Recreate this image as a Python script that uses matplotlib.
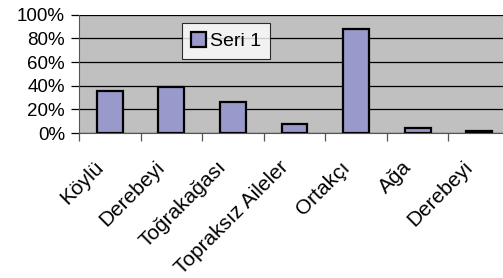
import numpy as np
import matplotlib.pyplot as plt
import matplotlib.transforms as mtransforms
from matplotlib.ticker import PercentFormatter

plt.rcParams['font.family'] = ['Liberation Sans', 'DejaVu Sans']

# Data
categories = ['Köylü', 'Derebeyi', 'Toğrakağası', 'Topraksız Aileler',
              'Ortakçı', 'Ağa', 'Derebeyi']
values = [35.5, 39, 26, 8, 87.5, 4.5, 1.5]
series_name = 'Seri 1'

fig = plt.figure(figsize=(5.03, 2.78), dpi=100)
ax = fig.add_axes([79 / 503, 1 - 133 / 278, 431 / 503, 118.3 / 278])

x = np.arange(len(categories))
ax.bar(x, values, width=0.42, color='#9999CC', edgecolor='black',
       linewidth=1.6, label=series_name, zorder=3)

ax.set_facecolor('#C0C0C0')
ax.set_xlim(-0.5, len(categories) - 0.5)
ax.set_ylim(0, 100)
ax.set_yticks(range(0, 101, 20))
ax.yaxis.set_major_formatter(PercentFormatter(decimals=0))
ax.grid(axis='y', color='black', linewidth=0.9, zorder=1)

# labels at centers, tick marks at category edges
ax.set_xticks(x)
ax.set_xticklabels(categories, rotation=45, ha='right', va='top',
                   rotation_mode='anchor', fontsize=15)
ax.tick_params(axis='x', which='major', length=0, pad=14)
shift = mtransforms.ScaledTranslation(-0.16, -0.05, fig.dpi_scale_trans)
for lbl in ax.get_xticklabels():
    lbl.set_transform(lbl.get_transform() + shift)
ax.set_xticks(np.arange(-0.5, len(categories), 1), minor=True)
ax.tick_params(axis='x', which='minor', length=6, width=0.9, color='#555555')
ax.tick_params(axis='y', length=6, width=0.9, labelsize=13.5, pad=4)

for side in ['top', 'right']:
    ax.spines[side].set_visible(False)
ax.spines['left'].set_color('#555555')
ax.spines['bottom'].set_color('#555555')

leg = ax.legend(loc='upper left', bbox_to_anchor=(0.239, 0.93), fontsize=14,
                frameon=True, fancybox=False, edgecolor='black',
                handlelength=0.8, handleheight=0.8, handletextpad=0.2,
                borderpad=0.45, borderaxespad=0)
leg.get_frame().set_linewidth(0.8)

fig.savefig('out.png', dpi=100)
